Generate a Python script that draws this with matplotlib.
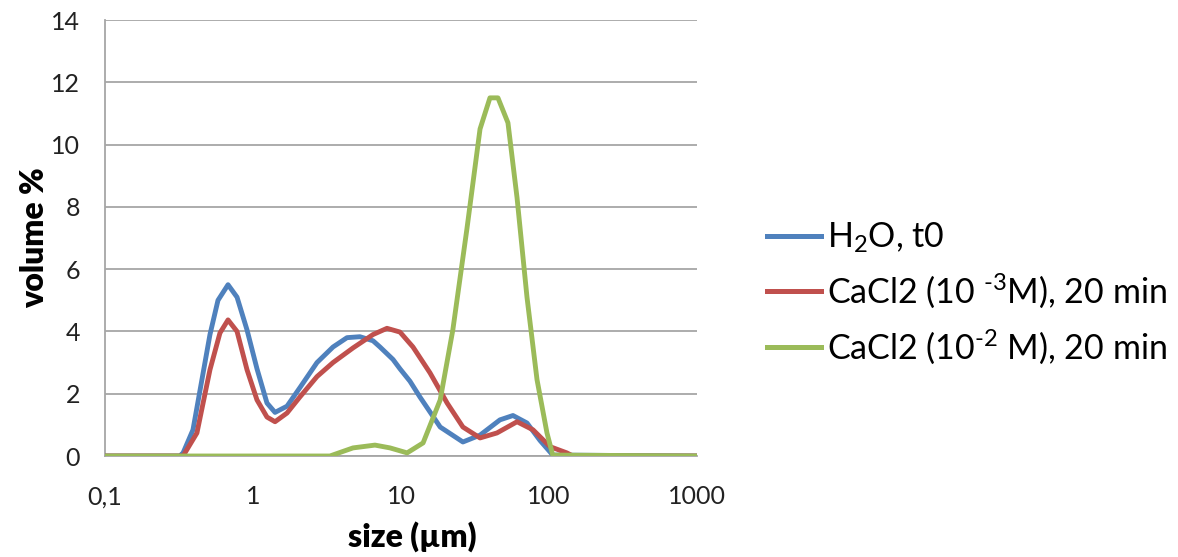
import matplotlib
matplotlib.use("Agg")
import matplotlib.pyplot as plt
from matplotlib.lines import Line2D

plt.rcParams['font.family'] = ['Lato', 'DejaVu Sans']
plt.rcParams['mathtext.fontset'] = 'custom'
plt.rcParams['mathtext.rm'] = 'Lato'
plt.rcParams['mathtext.it'] = 'Lato:italic'
plt.rcParams['mathtext.bf'] = 'Lato:bold'

# ---- data (size in µm, volume %) ----
h2o_x = [0.1, 0.32, 0.337, 0.393, 0.512, 0.58, 0.678, 0.78, 0.911, 1.064, 1.243, 1.409,
         1.698, 2.078, 2.706, 3.472, 4.316, 5.28, 6.47, 7.21, 8.83, 9.84, 11.5, 13.4,
         18.4, 26.2, 34.2, 46.6, 57.1, 71.0, 86.9, 106, 1000]
h2o_y = [0, 0, 0.1, 0.84, 3.9, 5.0, 5.5, 5.1, 4.05, 2.8, 1.7, 1.4,
         1.6, 2.2, 3.0, 3.5, 3.8, 3.83, 3.7, 3.5, 3.1, 2.8, 2.4, 1.9,
         0.93, 0.45, 0.67, 1.16, 1.3, 1.06, 0.5, 0.03, 0]

ca3_x = [0.1, 0.337, 0.418, 0.512, 0.598, 0.678, 0.78, 0.911, 1.064, 1.243, 1.409, 1.698,
         2.078, 2.706, 3.472, 4.74, 6.47, 8.04, 9.84, 12.05, 15.7, 20.5, 26.2, 34.2,
         44.5, 60.8, 78.0, 101.6, 132, 145, 1000]
ca3_y = [0, 0, 0.74, 2.77, 3.95, 4.37, 4.0, 2.77, 1.8, 1.25, 1.1, 1.38,
         1.9, 2.55, 3.0, 3.47, 3.9, 4.1, 3.98, 3.5, 2.67, 1.7, 0.93, 0.58,
         0.74, 1.1, 0.84, 0.3, 0.1, 0, 0]

ca2_x = [0.1, 3.31, 4.74, 6.67, 8.43, 11.0, 14.1, 18.4, 22.4, 27.9, 34.2, 39.9,
         45.2, 52.8, 60.8, 71.0, 83.0, 96.9, 106, 1000]
ca2_y = [0, 0, 0.26, 0.35, 0.26, 0.1, 0.42, 1.8, 4.05, 7.3, 10.5, 11.5,
         11.5, 10.7, 8.3, 5.1, 2.45, 0.74, 0.03, 0]

labels = ["H$_2$O, t0",
          "CaCl2 (10 $^{\u2010 3}$M), 20 min",
          "CaCl2 (10$^{\u2010 2}$ M), 20 min"]
colors = ["#4F81BD", "#C0504D", "#9BBB59"]

x_ticks = [0.1, 1, 10, 100, 1000]
x_ticklabels = ["0,1", "1", "10", "100", "1000"]
y_ticks = [0, 2, 4, 6, 8, 10, 12, 14]

W, H = 1178, 557
fig = plt.figure(figsize=(W / 100, H / 100), dpi=100)
ax = fig.add_axes([105 / W, 1 - 456 / H, (697 - 105) / W, (456 - 20) / H])

lw = 3.5
series = [(h2o_x, h2o_y), (ca3_x, ca3_y), (ca2_x, ca2_y)]
for (xs, ys), c, lab in zip(series, colors, labels):
    ax.plot(xs, ys, color=c, lw=lw, label=lab, solid_joinstyle='round',
            solid_capstyle='round', zorder=3)

ax.set_xscale('log')
ax.set_xlim(0.1, 1000)
ax.set_ylim(0, 14)
ax.set_xticks(x_ticks)
ax.set_xticklabels(x_ticklabels)
ax.xaxis.set_minor_locator(matplotlib.ticker.NullLocator())
ax.set_yticks(y_ticks)
ax.tick_params(axis='both', length=0, labelsize=18, colors='#222222')
ax.tick_params(axis='x', pad=21)
ax.tick_params(axis='y', pad=18)
ax.yaxis.grid(True, color='#a6a6a6', lw=1.3)
ax.set_axisbelow(True)
for s in ['top', 'right']:
    ax.spines[s].set_visible(False)
ax.spines['left'].set_color('#a6a6a6')
ax.spines['bottom'].set_color('#a6a6a6')
ax.spines['left'].set_linewidth(1.3)
ax.spines['bottom'].set_linewidth(1.3)

ax.set_xlabel("size (µm)", fontsize=23, fontweight='heavy')
ax.xaxis.set_label_coords((412 - 105) / (697 - 105), -(537 - 456) / (456 - 20))
ax.xaxis.label.set_va('center')
ax.set_ylabel("volume %", fontsize=23, fontweight='heavy')
ax.yaxis.set_label_coords(-(105 - 35) / (697 - 105), 0.5)
ax.yaxis.label.set_va('center')

handles = [Line2D([0], [0], color=c, lw=3.6) for c in colors]
fig.legend(handles, labels, loc='center left', bbox_to_anchor=(767 / W, 1 - 293 / H),
           frameon=False, fontsize=24.5, handlelength=1.6, handletextpad=0.15,
           labelspacing=0.5, borderaxespad=0, borderpad=0)

fig.savefig("out.png", dpi=100, facecolor='white')
